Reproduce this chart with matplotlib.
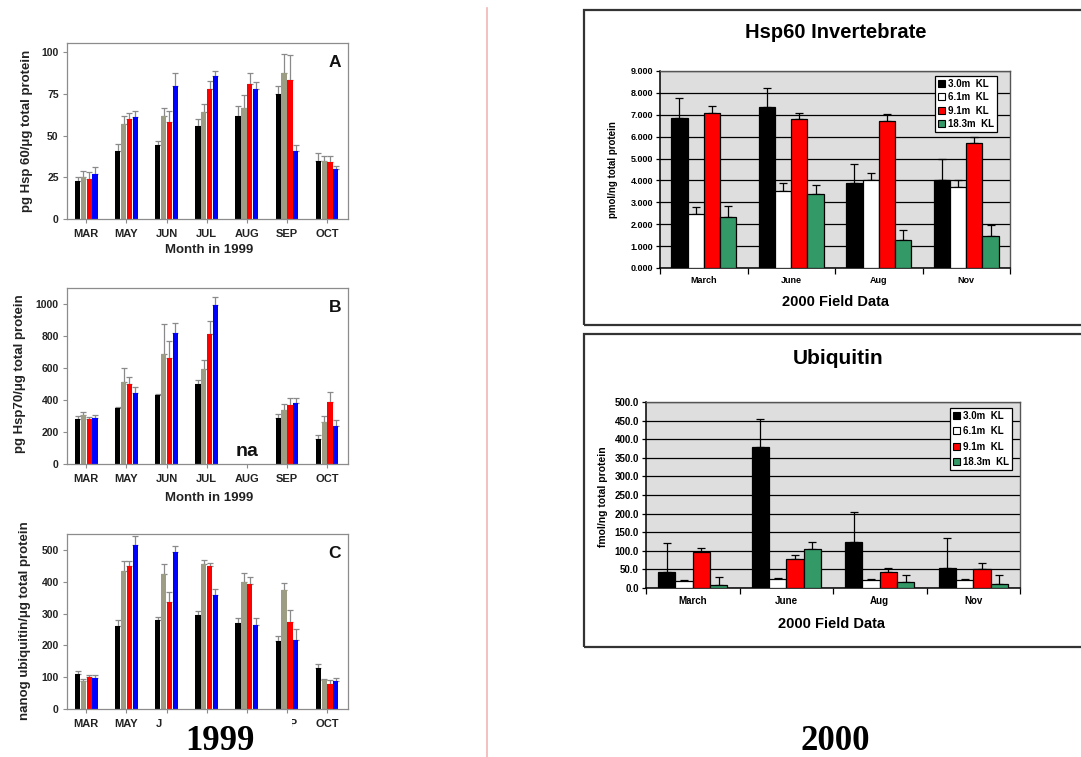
import numpy as np
import matplotlib
matplotlib.use('Agg')
import matplotlib.pyplot as plt
from matplotlib.patches import Rectangle
from matplotlib.lines import Line2D

plt.rcParams['font.family'] = ['Liberation Sans', 'DejaVu Sans']

# ---------------- data ----------------
months_1999 = ['MAR', 'MAY', 'JUN', 'JUL', 'AUG', 'SEP', 'OCT']
# panel C: the JUL and AUG labels are hidden under the "1999" caption
months_1999_c = ['MAR', 'MAY', 'JUN', '', '', 'SEP', 'OCT']

# Panel A: pg Hsp60 / ug total protein
hsp60_99_black = [23, 41, 44.5, 56, 62, 75, 35]
hsp60_99_gray = [25, 57, 62, 64, 66.5, 87.5, 35]
hsp60_99_red = [24, 60, 58, 78, 81, 83.5, 34]
hsp60_99_blue = [27, 61, 79.5, 86, 78, 40.5, 30]
hsp60_99_black_err = [2, 4, 2.5, 4, 5.5, 5, 4.5]
hsp60_99_gray_err = [4, 4.5, 4.5, 5, 8, 11.5, 2.5]
hsp60_99_red_err = [4, 3.5, 7, 5, 6.5, 15, 3.5]
hsp60_99_blue_err = [4, 3.5, 8, 2.5, 4, 4, 2]

# Panel B: pg Hsp70 / ug total protein (AUG not available)
nan = float('nan')
hsp70_99_black = [280, 350, 430, 500, nan, 285, 155]
hsp70_99_gray = [305, 510, 690, 595, nan, 335, 260]
hsp70_99_red = [280, 500, 665, 810, nan, 370, 385]
hsp70_99_blue = [290, 445, 820, 995, nan, 380, 240]
hsp70_99_black_err = [20, 5, 5, 25, nan, 30, 25]
hsp70_99_gray_err = [20, 90, 185, 55, nan, 40, 40]
hsp70_99_red_err = [15, 45, 105, 85, nan, 45, 65]
hsp70_99_blue_err = [15, 35, 60, 50, nan, 35, 35]

# Panel C: nanog ubiquitin / ug total protein
ubq_99_black = [110, 262, 280, 295, 270, 215, 130]
ubq_99_gray = [88, 435, 423, 455, 400, 375, 90]
ubq_99_red = [100, 448, 335, 448, 392, 275, 80]
ubq_99_blue = [97, 515, 495, 358, 265, 218, 88]
ubq_99_black_err = [10, 18, 8, 13, 15, 15, 12]
ubq_99_gray_err = [5, 30, 33, 12, 28, 22, 5]
ubq_99_red_err = [8, 18, 33, 12, 22, 35, 10]
ubq_99_blue_err = [10, 28, 17, 20, 20, 35, 8]

months_2000 = ['March', 'June', 'Aug', 'Nov']
depths_2000 = ['3.0m  KL', '6.1m  KL', '9.1m  KL', '18.3m  KL']

# Hsp60 invertebrate 2000 (pmol/ng total protein)
hsp60_00_d30 = [6.83, 7.35, 3.89, 4.04]
hsp60_00_d61 = [2.46, 3.52, 4.01, 3.69]
hsp60_00_d91 = [7.09, 6.79, 6.71, 5.70]
hsp60_00_d183 = [2.33, 3.36, 1.27, 1.48]
hsp60_00_d30_err = [0.95, 0.89, 0.87, 0.92]
hsp60_00_d61_err = [0.33, 0.37, 0.34, 0.34]
hsp60_00_d91_err = [0.29, 0.30, 0.34, 0.29]
hsp60_00_d183_err = [0.51, 0.45, 0.47, 0.50]

# Ubiquitin 2000 (fmol/ng total protein)
ubq_00_d30 = [43, 378, 124, 54]
ubq_00_d61 = [20, 25, 22, 22]
ubq_00_d91 = [96, 78, 43, 52]
ubq_00_d183 = [8, 104, 15, 12]
ubq_00_d30_err = [79, 77, 79, 80]
ubq_00_d61_err = [2, 2, 1, 2]
ubq_00_d91_err = [11, 11, 11, 15]
ubq_00_d183_err = [21, 20, 21, 24]

# ---------------- figure ----------------
W, H = 1081, 757
fig = plt.figure(figsize=(W / 100, H / 100), dpi=100)


def ax_px(l, t, r, b):
    return fig.add_axes([l / W, 1 - b / H, (r - l) / W, (b - t) / H])


def fx(x):
    return x / W


def fy(y):
    return 1 - y / H


colors_99 = ['#000000', '#9d9c85', '#ff0000', '#0000ff']
spine_gray = '#8c8c8c'


def panel_1999(ax, series, errs, ymax, yticks, letter, labels):
    x = np.arange(len(months_1999))
    step = 0.145
    for i, (vals, err, c) in enumerate(zip(series, errs, colors_99)):
        xpos = x + (i - 1.5) * step
        vals = np.array(vals, dtype=float)
        err = np.array(err, dtype=float)
        ax.bar(xpos, vals, width=step * 0.9, color=c, zorder=2)
        ax.errorbar(xpos, vals, yerr=[np.zeros_like(err), err], fmt='none',
                    ecolor='#8a8a8a', elinewidth=0.9, capsize=2.2,
                    capthick=0.9, zorder=1)
    ax.set_xlim(-0.48, 6.52)
    ax.set_ylim(0, ymax)
    ax.set_yticks(yticks)
    ax.set_xticks(x)
    ax.set_xticklabels(labels)
    for s in ax.spines.values():
        s.set_color(spine_gray)
        s.set_linewidth(0.9)
    ax.tick_params(axis='both', direction='out', color=spine_gray,
                   length=3, width=0.8, labelsize=7.5, colors='#222222',
                   pad=3)
    ax.tick_params(axis='x', labelsize=8, pad=4)
    for lab in ax.get_xticklabels() + ax.get_yticklabels():
        lab.set_fontweight('bold')
    ax.text(0.975, 0.93, letter, transform=ax.transAxes, ha='right',
            va='top', fontsize=12.5, fontweight='bold', color='#111111')


axA = ax_px(67, 43, 348, 219)
panel_1999(axA, [hsp60_99_black, hsp60_99_gray, hsp60_99_red, hsp60_99_blue],
           [hsp60_99_black_err, hsp60_99_gray_err, hsp60_99_red_err,
            hsp60_99_blue_err], 105.5, [0, 25, 50, 75, 100], 'A',
           months_1999)
axB = ax_px(67, 288, 348, 464)
panel_1999(axB, [hsp70_99_black, hsp70_99_gray, hsp70_99_red, hsp70_99_blue],
           [hsp70_99_black_err, hsp70_99_gray_err, hsp70_99_red_err,
            hsp70_99_blue_err], 1100, [0, 200, 400, 600, 800, 1000], 'B',
           months_1999)
axB.text(4, 25, 'na', ha='center', va='bottom', fontsize=14,
         fontweight='bold', color='#111111')
axC = ax_px(67, 534, 348, 709)
panel_1999(axC, [ubq_99_black, ubq_99_gray, ubq_99_red, ubq_99_blue],
           [ubq_99_black_err, ubq_99_gray_err, ubq_99_red_err,
            ubq_99_blue_err], 550, [0, 100, 200, 300, 400, 500], 'C',
           months_1999_c)

# left y labels & x labels
fig.text(fx(27), fy(131), 'pg Hsp 60/μg total protein', rotation=90,
         ha='center', va='center', fontsize=9.5, fontweight='bold',
         color='#222222')
fig.text(fx(20), fy(374), 'pg Hsp70/μg total protein', rotation=90,
         ha='center', va='center', fontsize=9.5, fontweight='bold',
         color='#222222')
fig.text(fx(25), fy(621), 'nanog ubiquitin/μg total protein', rotation=90,
         ha='center', va='center', fontsize=9.5, fontweight='bold',
         color='#222222')
fig.text(fx(209), fy(250), 'Month in 1999', ha='center', va='center',
         fontsize=9.5, fontweight='bold', color='#222222')
fig.text(fx(209), fy(498), 'Month in 1999', ha='center', va='center',
         fontsize=9.5, fontweight='bold', color='#222222')

# white patch covering part of panel C tick labels, then year caption
fig.patches.append(Rectangle((fx(162), fy(757)), fx(292) - fx(162),
                             fy(714) - fy(757), transform=fig.transFigure,
                             facecolor='white', edgecolor='none', zorder=5))
fig.text(fx(220), fy(741), '1999', ha='center', va='center', fontsize=25,
         fontweight='bold', family=['Liberation Serif', 'DejaVu Serif'],
         zorder=6)
fig.text(fx(835), fy(741), '2000', ha='center', va='center', fontsize=25,
         fontweight='bold', family=['Liberation Serif', 'DejaVu Serif'],
         zorder=6)

# divider line
fig.add_artist(Line2D([fx(487), fx(487)], [fy(8), fy(757)],
                      transform=fig.transFigure, color='#f2b5b5', lw=1.2))

# boxes around right charts
for (t, b) in [(10, 325), (334, 647)]:
    fig.patches.append(Rectangle((fx(584), fy(b)), fx(1100) - fx(584),
                                 fy(t) - fy(b), transform=fig.transFigure,
                                 facecolor='none', edgecolor='#333333',
                                 lw=1.6, zorder=0))

colors_00 = ['#000000', '#ffffff', '#ff0000', '#339966']


def panel_2000(ax, series, errs, ymax, ystep, fmt, tick_fs, leg_anchor,
               leg_spacing):
    x = np.arange(len(months_2000))
    w = 0.185
    for i, (vals, err, c) in enumerate(zip(series, errs, colors_00)):
        xpos = x + (i - 1.5) * w
        vals = np.array(vals, dtype=float)
        err = np.array(err, dtype=float)
        ax.errorbar(xpos, vals, yerr=[np.zeros_like(err), err], fmt='none',
                    ecolor='black', elinewidth=0.9, capsize=3,
                    capthick=0.9, zorder=2)
        ax.bar(xpos, vals, width=w, color=c, edgecolor='black', lw=0.9,
               zorder=3)
    ax.set_facecolor('#dedede')
    ax.set_xlim(-0.5, 3.5)
    ax.set_ylim(0, ymax)
    yt = np.arange(0, ymax + ystep / 2, ystep)
    ax.set_yticks(yt)
    ax.set_yticklabels([fmt % v for v in yt])
    ax.yaxis.grid(True, color='black', lw=0.9)
    ax.set_axisbelow(True)
    ax.set_xticks([-0.5, 0.5, 1.5, 2.5, 3.5])
    ax.set_xticklabels([])
    ax.set_xticks(x, minor=True)
    ax.set_xticklabels(months_2000, minor=True)
    ax.tick_params(axis='x', which='major', direction='out', length=4,
                   width=0.9)
    ax.tick_params(axis='x', which='minor', length=0, pad=6,
                   labelsize=tick_fs)
    ax.tick_params(axis='y', direction='out', length=3, width=0.9,
                   labelsize=tick_fs, pad=2)
    for lab in (ax.get_xticklabels(minor=True) + ax.get_yticklabels()):
        lab.set_fontweight('bold')
    for s in ['left', 'bottom']:
        ax.spines[s].set_color('black')
        ax.spines[s].set_linewidth(1.1)
    for s in ['top', 'right']:
        ax.spines[s].set_color('#555555')
        ax.spines[s].set_linewidth(1.0)
    handles = [Rectangle((0, 0), 1, 1, facecolor=c, edgecolor='black', lw=0.8)
               for c in colors_00]
    leg = ax.legend(handles, depths_2000, loc='upper right',
                    bbox_to_anchor=leg_anchor, borderaxespad=0,
                    fancybox=False, framealpha=1, edgecolor='black',
                    prop={'size': 7, 'weight': 'bold'}, handlelength=0.75,
                    handleheight=0.75, handletextpad=0.3,
                    labelspacing=leg_spacing, borderpad=0.3)
    leg.get_frame().set_linewidth(0.9)
    leg.set_zorder(10)


ax1 = ax_px(660, 71, 1010, 268)
panel_2000(ax1, [hsp60_00_d30, hsp60_00_d61, hsp60_00_d91, hsp60_00_d183],
           [hsp60_00_d30_err, hsp60_00_d61_err, hsp60_00_d91_err,
            hsp60_00_d183_err], 9, 1, '%.3f', 6.5, (0.963, 0.975), 0.35)
fig.text(fx(836), fy(33), 'Hsp60 Invertebrate', ha='center', va='center',
         fontsize=14.5, fontweight='bold')
fig.text(fx(835), fy(302), '2000 Field Data', ha='center', va='center',
         fontsize=10.5, fontweight='bold')
fig.text(fx(613), fy(170), 'pmol/ng total protein', rotation=90,
         ha='center', va='center', fontsize=7, fontweight='bold')

ax2 = ax_px(646, 402, 1020, 588)
panel_2000(ax2, [ubq_00_d30, ubq_00_d61, ubq_00_d91, ubq_00_d183],
           [ubq_00_d30_err, ubq_00_d61_err, ubq_00_d91_err,
            ubq_00_d183_err], 500, 50, '%.1f', 7, (0.979, 0.968), 0.55)
fig.text(fx(838), fy(358), 'Ubiquitin', ha='center', va='center',
         fontsize=15, fontweight='bold')
fig.text(fx(832), fy(624), '2000 Field Data', ha='center', va='center',
         fontsize=10.5, fontweight='bold')
fig.text(fx(603), fy(497), 'fmol/ng total protein', rotation=90,
         ha='center', va='center', fontsize=7.5, fontweight='bold')

fig.savefig('out.png', dpi=100)
